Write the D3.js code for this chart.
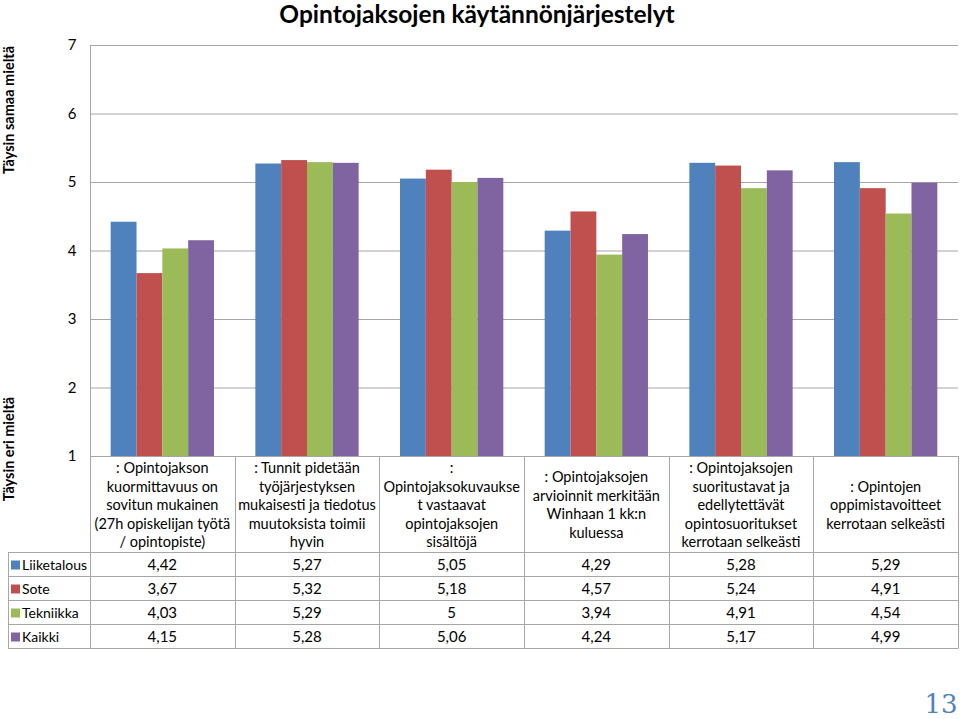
<!DOCTYPE html>
<html><head><meta charset="utf-8">
<script src="https://cdn.jsdelivr.net/npm/d3@7/dist/d3.min.js"></script>
<style>body{margin:0;background:#fff;} svg{display:block;font-family:Lato,"Open Sans",sans-serif;}</style>
</head><body><svg id="c" width="960" height="719"></svg>
<script>
const title = "Opintojaksojen käytännönjärjestelyt";
const categories = [
  [": Opintojakson","kuormittavuus on","sovitun mukainen","(27h opiskelijan työtä","/ opintopiste)"],
  [": Tunnit pidetään","työjärjestyksen","mukaisesti ja tiedotus","muutoksista toimii","hyvin"],
  [":","Opintojaksokuvaukse","t vastaavat","opintojaksojen","sisältöjä"],
  [": Opintojaksojen","arvioinnit merkitään","Winhaan 1 kk:n","kuluessa"],
  [": Opintojaksojen","suoritustavat ja","edellytettävät","opintosuoritukset","kerrotaan selkeästi"],
  [": Opintojen","oppimistavoitteet","kerrotaan selkeästi"]
];
const seriesNames = ["Liiketalous","Sote","Tekniikka","Kaikki"];
const liiketalous = [4.42,5.27,5.05,4.29,5.28,5.29];
const sote = [3.67,5.32,5.18,4.57,5.24,4.91];
const tekniikka = [4.03,5.29,5,3.94,4.91,4.54];
const kaikki = [4.15,5.28,5.06,4.24,5.17,4.99];
const colors = ["#4F81BD","#C0504D","#9BBB59","#8064A2"];
const yTicks = [1,2,3,4,5,6,7];
const axisTop = "Täysin samaa mieltä";
const axisBottom = "Täysin eri mieltä";
const pageNo = "13";

const seriesValues = [liiketalous, sote, tekniikka, kaikki];
const svg = d3.select("#c");
const L = 90, R = 958, T = 45, B = 456;
const gridColor = "#a6a6a6";

const y = d3.scaleLinear().domain([1,7]).range([B,T]);
const x = d3.scaleBand().domain(d3.range(categories.length)).range([L,R]).paddingInner(0).paddingOuter(0);
const bw = x.bandwidth();
const x1 = d3.scaleBand().domain(d3.range(seriesNames.length)).range([bw*0.143, bw*0.857]).padding(0);

// title
svg.append("text").attr("x",477).attr("y",23).attr("text-anchor","middle")
  .attr("font-size",24.5).attr("font-weight","bold").attr("fill","#000").text(title);

// gridlines
svg.append("g").selectAll("line").data(yTicks).join("line")
  .attr("x1",L).attr("x2",R).attr("y1",d=>y(d)+0.5).attr("y2",d=>y(d)+0.5)
  .attr("stroke",gridColor).attr("stroke-width",1);

// y axis
const ya = svg.append("g").attr("transform",`translate(${L+0.5},0)`)
  .call(d3.axisLeft(y).tickValues(yTicks).tickSize(0).tickPadding(14).tickFormat(d3.format("d")));
ya.select(".domain").remove();
ya.selectAll("text").attr("font-size",15).attr("fill","#000").attr("font-family","Lato");
svg.append("line").attr("x1",L+0.5).attr("x2",L+0.5).attr("y1",T).attr("y2",648).attr("stroke",gridColor);

// bars
const g = svg.append("g");
seriesValues.forEach((vals,si)=>{
  g.append("g").selectAll("rect").data(vals).join("rect")
    .attr("x",(d,i)=>x(i)+x1(si)).attr("width",x1.bandwidth())
    .attr("y",d=>y(d)).attr("height",d=>y(1)-y(d))
    .attr("fill",colors[si]);
});

// axis titles
svg.append("text").attr("transform",`translate(14,110) rotate(-90)`).attr("text-anchor","middle")
  .attr("font-size",14.5).attr("font-weight","bold").text(axisTop);
svg.append("text").attr("transform",`translate(14,449) rotate(-90)`).attr("text-anchor","middle")
  .attr("font-size",14.5).attr("font-weight","bold").text(axisBottom);

// table
const headTop = B, headBot = 552, rowH = 24, tableLeft = 8;
const tb = svg.append("g");
tb.selectAll("line.v").data(d3.range(1,categories.length+1)).join("line")
  .attr("x1",i=>Math.round(i<categories.length?x(i):R)+0.5).attr("x2",i=>Math.round(i<categories.length?x(i):R)+0.5)
  .attr("y1",headTop).attr("y2",headBot+rowH*4).attr("stroke",gridColor);
tb.append("line").attr("x1",tableLeft+0.5).attr("x2",tableLeft+0.5).attr("y1",headBot).attr("y2",headBot+rowH*4).attr("stroke",gridColor);
tb.selectAll("line.h").data(d3.range(5)).join("line")
  .attr("x1",tableLeft).attr("x2",R+0.5).attr("y1",i=>headBot+i*rowH+0.5).attr("y2",i=>headBot+i*rowH+0.5).attr("stroke",gridColor);

// category labels
const lh = 18.5;
categories.forEach((lines,i)=>{
  const cx = x(i)+bw/2, cy = (headTop+headBot)/2+1;
  const t = tb.append("text").attr("text-anchor","middle").attr("font-size",14.5).attr("fill","#000");
  lines.forEach((ln,k)=>{
    t.append("tspan").attr("x",cx).attr("y",cy+(k-(lines.length-1)/2)*lh).attr("dy","0.35em").text(ln);
  });
});

// rows
const fmt = v => String(v).replace(".",",");
seriesNames.forEach((name,si)=>{
  const cy = headBot + si*rowH + rowH/2 + 1;
  tb.append("rect").attr("x",11).attr("y",cy-4.5).attr("width",9).attr("height",9).attr("fill",colors[si]);
  tb.append("text").attr("x",22).attr("y",cy).attr("dy","0.35em").attr("font-size",14).text(name);
  tb.append("g").selectAll("text").data(seriesValues[si]).join("text")
    .attr("x",(d,i)=>x(i)+bw/2).attr("y",cy).attr("dy","0.35em").attr("text-anchor","middle")
    .attr("font-size",15).text(d=>fmt(d));
});

// page number
svg.append("text").attr("x",941).attr("y",713).attr("text-anchor","middle")
  .attr("font-family","'DejaVu Serif','Liberation Serif',serif").attr("font-size",26).attr("fill","#4F81BD").text(pageNo);
</script></body></html>
